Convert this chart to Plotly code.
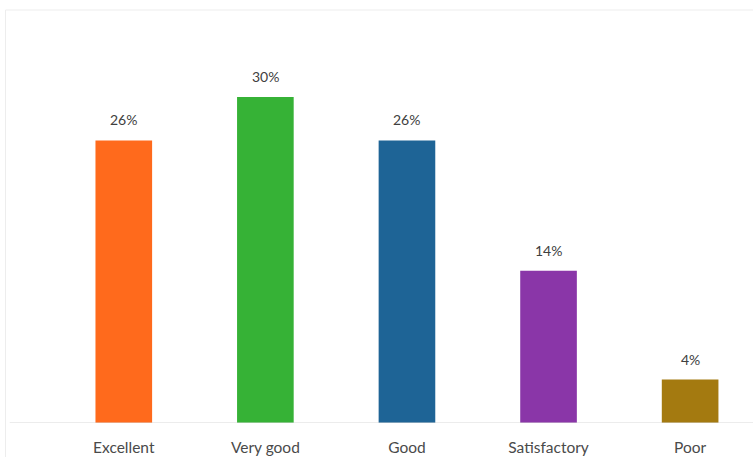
import plotly.graph_objects as go

categories = ["Excellent", "Very good", "Good", "Satisfactory", "Poor"]
values = [26, 30, 26, 14, 4]
colors = ["#FF6A1C", "#36B236", "#1E6496", "#8A36A8", "#A47A10"]
labels = [f"{v}%" for v in values]

fig = go.Figure(go.Bar(
    x=categories, y=values,
    marker=dict(color=colors, line=dict(width=0)),
    cliponaxis=False,
))

for c, v, t in zip(categories, values, labels):
    fig.add_annotation(x=c, y=v, text=t, showarrow=False, yanchor="bottom", yshift=10,
                       font=dict(size=14, color="#404040", family="Lato, Open Sans, sans-serif"))

fig.update_layout(
    width=753, height=457,
    margin=dict(l=53, r=2, t=10, b=34),
    paper_bgcolor="white", plot_bgcolor="white",
    bargap=0.6, showlegend=False,
    font=dict(family="Lato, Open Sans, sans-serif", color="#4a4a4a", size=14),
    xaxis=dict(range=[-0.5, 4.43], showgrid=False, zeroline=False, showline=False,
               ticks="", ticklabelstandoff=13, tickfont=dict(size=15.5, color="#4a4a4a")),
    yaxis=dict(range=[0, 38], showgrid=False, zeroline=False, showline=False,
               showticklabels=False, ticks=""),
    shapes=[
        dict(type="line", xref="paper", yref="y", x0=-0.062, x1=1.003, y0=0, y1=0,
             line=dict(color="#D9D9D9", width=1)),
        dict(type="line", xref="paper", yref="paper", x0=-0.068, x1=1.003, y0=1, y1=1,
             line=dict(color="#EDEDED", width=1)),
        dict(type="line", xref="paper", yref="paper", x0=-0.068, x1=-0.068, y0=1, y1=-0.1,
             line=dict(color="#EDEDED", width=1)),
    ],
)

fig.write_html("out.html")
